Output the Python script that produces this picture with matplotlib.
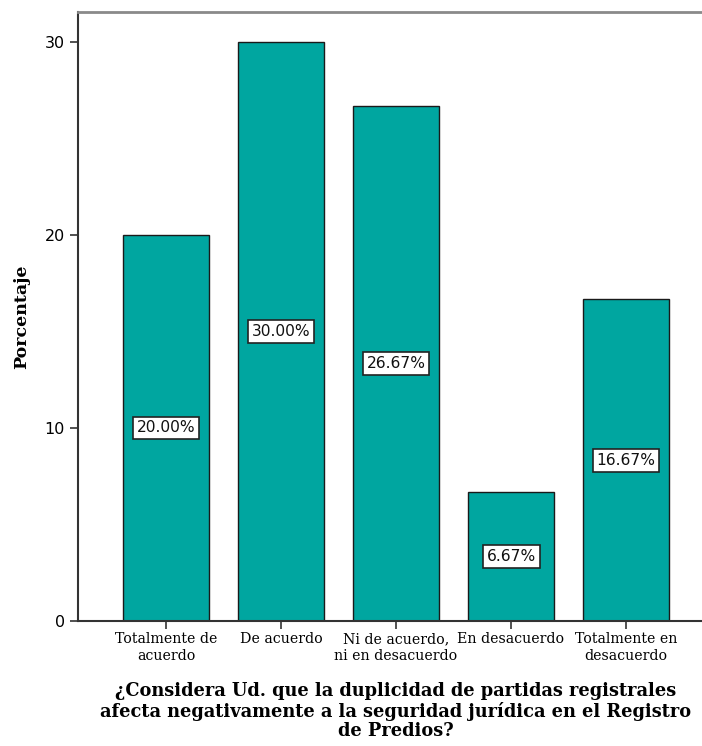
import matplotlib
matplotlib.use("Agg")
import matplotlib.pyplot as plt

categories = ["Totalmente de\nacuerdo", "De acuerdo", "Ni de acuerdo,\nni en desacuerdo",
              "En desacuerdo", "Totalmente en\ndesacuerdo"]
percentages = [20.00, 30.00, 26.67, 6.67, 16.67]
yticks = [0, 10, 20, 30]
xlabel = ("¿Considera Ud. que la duplicidad de partidas registrales\n"
          "afecta negativamente a la seguridad jurídica en el Registro\n"
          "de Predios?")

W, H = 702, 746
fig = plt.figure(figsize=(W / 100, H / 100), dpi=100)
ax = fig.add_axes([78 / W, 1 - 621 / H, (W - 78) / W, (621 - 12) / H])

x = list(range(len(categories)))
ax.bar(x, percentages, width=0.75, color="#00A6A0", edgecolor="#1a1a1a",
       linewidth=1.0, zorder=2)

for xi, v in zip(x, percentages):
    ax.text(xi, v / 2, f"{v:.2f}%", ha="center", va="center", fontsize=11.2,
            family="DejaVu Sans", color="#111111", zorder=3,
            bbox=dict(boxstyle="square,pad=0.25", facecolor="white",
                      edgecolor="#222222", linewidth=1.2))

ax.set_xlim(-0.765, 4.66)
ax.set_ylim(0, 31.55)
ax.set_yticks(yticks)
ax.set_yticklabels([str(t) for t in yticks], family="DejaVu Sans", fontsize=11.5)
ax.set_xticks(x)
ax.set_xticklabels(categories, family="DejaVu Serif", fontsize=10.2,
                   linespacing=1.25)
ax.tick_params(axis="both", direction="out", length=6, width=1.2, color="#333333")
ax.tick_params(axis="x", pad=2)

for side in ["left", "bottom"]:
    ax.spines[side].set_color("#333333")
    ax.spines[side].set_linewidth(1.5)
ax.spines["top"].set_color("#8a8a8a")
ax.spines["top"].set_linewidth(2.0)
ax.spines["right"].set_visible(False)

ax.set_ylabel("Porcentaje", family="DejaVu Serif", fontweight="bold",
              fontsize=12.5, labelpad=10)
fig.text(0.564, 1 - 711 / H, xlabel, ha="center", va="center",
         family="DejaVu Serif", fontweight="bold", fontsize=12.8,
         linespacing=1.12)

fig.savefig("out.png", dpi=100)
